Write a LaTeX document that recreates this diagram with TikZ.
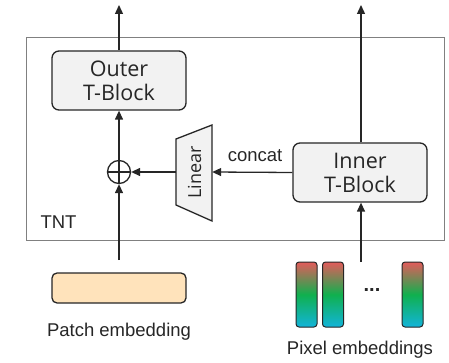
\documentclass[tikz,border=0pt]{standalone}
\usepackage{fontspec}
\setmainfont{Liberation Sans}
\newfontfamily\blockfont{Open Sans}
\usetikzlibrary{arrows.meta}
\definecolor{linecol}{HTML}{262626}
\definecolor{framecol}{HTML}{808080}
\definecolor{blockfill}{HTML}{F2F2F2}
\definecolor{patchfill}{HTML}{FFE3BB}
\definecolor{pxred}{HTML}{E35B5B}
\definecolor{pxgreen}{HTML}{10B04E}
\definecolor{pxcyan}{HTML}{12B4DA}
\begin{document}
\begin{tikzpicture}[x=1pt,y=-1pt,
  tblock/.style={draw=linecol,line width=1.3pt,fill=blockfill,rounded corners=7pt,
    minimum width=134pt,minimum height=59pt,inner sep=0pt,align=center,
    font=\blockfont\fontsize{21.5}{24}\selectfont,text=black!85},
  conn/.style={draw=linecol,line width=1.3pt},
  arr/.style={conn,-{Triangle[length=9pt,width=8pt]}},
  pxbar/.style={draw=linecol,line width=1pt,rounded corners=3pt,
    top color=pxred,bottom color=pxcyan,middle color=pxgreen},
  lbl/.style={font=\fontsize{18.5}{20}\selectfont,text=black!85}
]
\useasboundingbox (0,0) rectangle (449,363);
% TNT frame
\draw[framecol,line width=1pt] (26,38) rectangle (444,240);
\node[lbl,anchor=base west] (tnt) at (37,229) {TNT};
% blocks
\node[tblock] (outer) at (119,80.5) {Outer\\T-Block};
\node[tblock] (inner) at (360,172.5) {Inner\\T-Block};
% oplus
\node[circle,draw=linecol,line width=1.3pt,minimum size=23pt,inner sep=0pt] (plus) at (119,172) {};
\draw[linecol,line width=1.3pt] (plus.north) -- (plus.south) (plus.west) -- (plus.east);
% linear trapezoid
\draw[linecol,line width=1.3pt,fill=blockfill] (176,139) -- (212,125) -- (212,221) -- (176,205) -- cycle;
\node[minimum width=36pt,minimum height=66pt,inner sep=0pt] (lin) at (194,172) {};
\node[rotate=90,font=\blockfont\fontsize{18}{20}\selectfont,text=black!85] (lintext) at (194.5,172.5) {Linear};
% patch embedding
\node[draw=linecol,line width=1.3pt,fill=patchfill,rounded corners=5pt,minimum width=134pt,minimum height=30pt,inner sep=0pt] (patch) at (119,288) {};
\node[lbl,anchor=base] (patchlbl) at (119,336) {Patch embedding};
% pixel embeddings
\node[pxbar,minimum width=21pt,minimum height=65pt,inner sep=0pt] (px1) at (306.5,294.5) {};
\node[pxbar,minimum width=21pt,minimum height=65pt,inner sep=0pt] (px2) at (333,294.5) {};
\node[pxbar,minimum width=21pt,minimum height=65pt,inner sep=0pt] (px3) at (412.5,294.5) {};
\node[font=\bfseries\fontsize{20}{20}\selectfont,text=black!85] (dots) at (372,290) {...};
\node[lbl,anchor=base] (pixlbl) at (360,354) {Pixel embeddings};
% connectors
\coordinate (outtop) at (119,5);
\coordinate (intop) at (361,5);
\coordinate (patchtop) at (119,260);
\coordinate (pixtop) at (361,262);
\draw[arr] (outer.north) -- (outtop);
\draw[arr] (inner.north -| intop) -- (intop);
\draw[arr] (plus.north) -- (outer.south);
\draw[arr] (patchtop) -- (plus.south);
\draw[arr] (lin.west) -- (plus.east);
\draw[arr] (inner.west) -- (lin.east);
\draw[arr] (pixtop) -- (inner.south -| pixtop);
\node[lbl,anchor=base] (concat) at (255,162) {concat};
\end{tikzpicture}
\end{document}
